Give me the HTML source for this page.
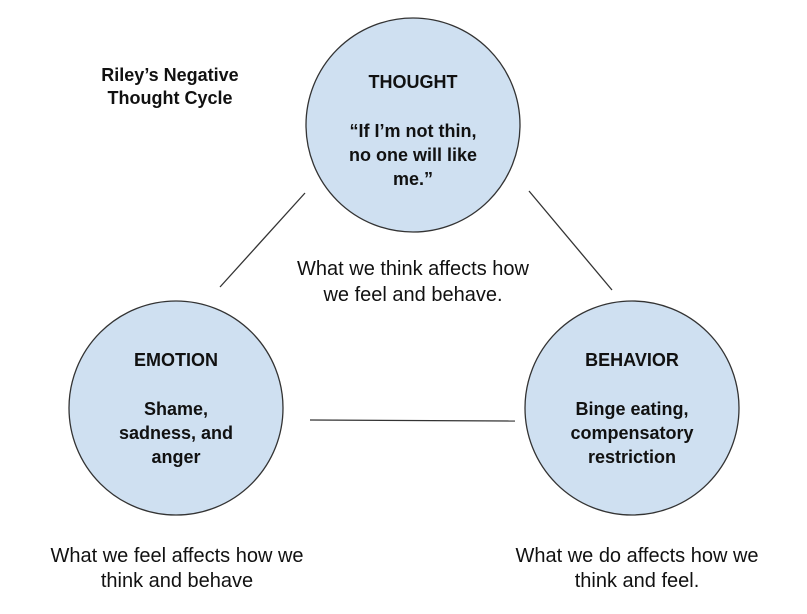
<!DOCTYPE html>
<html><head><style>
body{margin:0;background:#fff;}
svg text{font-family:"Liberation Sans",Arial,sans-serif;fill:#111;}
.b{font-weight:bold;font-size:18px;}
.n{font-size:20px;}
</style></head><body>
<svg width="807" height="609" viewBox="0 0 807 609" xmlns="http://www.w3.org/2000/svg">
<rect width="807" height="609" fill="#fff"/>
<g stroke="#333" stroke-width="1.3">
<line x1="220" y1="287" x2="305" y2="193"/>
<line x1="529" y1="191" x2="612" y2="290"/>
<line x1="310" y1="420" x2="515" y2="421"/>
</g>
<g fill="#cfe0f1" stroke="#333" stroke-width="1.3">
<circle cx="413" cy="125" r="107"/>
<circle cx="176" cy="408" r="107"/>
<circle cx="632" cy="408" r="107"/>
</g>
<g text-anchor="middle">
<text class="b" x="170" y="81" font-size="17">Riley’s Negative</text>
<text class="b" x="170" y="104" font-size="17">Thought Cycle</text>
<text class="b" x="413" y="88">THOUGHT</text>
<text class="b" x="413" y="137" font-size="19">“If I’m not thin,</text>
<text class="b" x="413" y="161" font-size="19">no one will like</text>
<text class="b" x="413" y="185" font-size="19">me.”</text>
<text class="b" x="176" y="366">EMOTION</text>
<text class="b" x="176" y="415">Shame,</text>
<text class="b" x="176" y="439">sadness, and</text>
<text class="b" x="176" y="463">anger</text>
<text class="b" x="632" y="366">BEHAVIOR</text>
<text class="b" x="632" y="415">Binge eating,</text>
<text class="b" x="632" y="439">compensatory</text>
<text class="b" x="632" y="463">restriction</text>
<text class="n" x="413" y="275">What we think affects how</text>
<text class="n" x="413" y="301">we feel and behave.</text>
<text class="n" x="177" y="562">What we feel affects how we</text>
<text class="n" x="177" y="587">think and behave</text>
<text class="n" x="637" y="562">What we do affects how we</text>
<text class="n" x="637" y="587">think and feel.</text>
</g>
</svg>
</body></html>
